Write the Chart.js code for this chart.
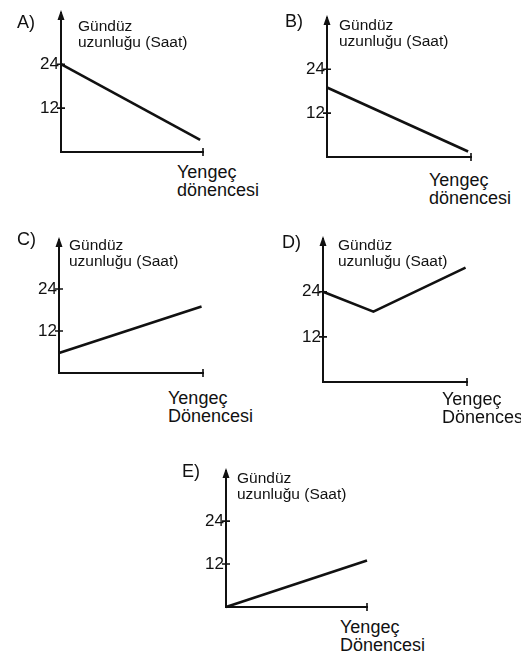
<!DOCTYPE html>
<html lang="tr">
<head>
<meta charset="UTF-8">
<title>Gündüz uzunluğu - Yengeç dönencesi</title>
<script src="https://cdn.jsdelivr.net/npm/chart.js"></script>
<style>
  body { margin: 0; background: #fff; }
  #page {
    position: relative;
    width: 521px;
    height: 658px;
    overflow: hidden;
    font-family: "Liberation Sans", Arial, sans-serif;
    color: #111;
  }
  canvas { position: absolute; }
  .lbl { position: absolute; white-space: nowrap; }
  .letter { font-size: 18px; line-height: 18px; }
  .title { font-size: 15.5px; line-height: 16px; }
  .xname { font-size: 18px; line-height: 18px; }
</style>
</head>
<body>
<div id="page"></div>

<script>
  // data
  const yTicks = [12, 24];
  const yTitle = ['Gündüz', 'uzunluğu (Saat)'];
  const xTitleLower = ['Yengeç', 'dönencesi'];
  const xTitleUpper = ['Yengeç', 'Dönencesi'];

  const xA = [0, 9.8];       const yA = [24, 3.3];
  const xB = [0, 9.8];       const yB = [19, 1.5];
  const xC = [0, 9.9];       const yC = [5.7, 19];
  const xD = [0, 3.5, 9.9];  const yD = [24, 18.7, 30.4];
  const xE = [0, 10];        const yE = [0, 13];

  const yMax = 38;
  const xMax = 10;

  // placement of each small chart on the page (axis left, axis right, origin y, px per 12 h)
  const panels = [
    { name: 'A)', xs: xA, ys: yA, xt: xTitleLower, L: 61,  R: 203, B: 152, k: 44,
      letter: [17, 13],  title: [78, 18],  xname: [177, 163] },
    { name: 'B)', xs: xB, ys: yB, xt: xTitleLower, L: 327, R: 471, B: 157, k: 44,
      letter: [285, 12], title: [339, 17], xname: [429, 171] },
    { name: 'C)', xs: xC, ys: yC, xt: xTitleUpper, L: 59,  R: 203, B: 373, k: 42,
      letter: [17, 230], title: [69, 237], xname: [168, 389] },
    { name: 'D)', xs: xD, ys: yD, xt: xTitleUpper, L: 323, R: 467, B: 382, k: 45,
      letter: [282, 233], title: [338, 237], xname: [442, 390] },
    { name: 'E)', xs: xE, ys: yE, xt: xTitleUpper, L: 226, R: 367, B: 607, k: 43,
      letter: [182, 462], title: [237, 470], xname: [340, 618] }
  ];

  const INK = '#111';
  const Y_W = 32, PAD = 8;

  // tick crosses, end tick of x axis and the arrow head on y axis
  const axisMarks = {
    id: 'axisMarks',
    afterDraw(chart) {
      const { ctx, chartArea: a, scales: { x, y } } = chart;
      ctx.save();
      ctx.strokeStyle = INK;
      ctx.lineWidth = 1.6;
      ctx.beginPath();
      yTicks.forEach(v => {
        const py = y.getPixelForValue(v);
        ctx.moveTo(a.left - 4, py);
        ctx.lineTo(a.left + 4, py);
      });
      const px = x.getPixelForValue(x.max);
      ctx.moveTo(px, a.bottom - 4);
      ctx.lineTo(px, a.bottom + 4);
      ctx.stroke();

      ctx.fillStyle = INK;
      ctx.beginPath();
      ctx.moveTo(a.left, a.top - 3);
      ctx.lineTo(a.left - 3.5, a.top + 7);
      ctx.lineTo(a.left + 3.5, a.top + 7);
      ctx.closePath();
      ctx.fill();
      ctx.restore();
    }
  };

  const page = document.getElementById('page');

  function addLabel(cls, pos, lines) {
    const d = document.createElement('div');
    d.className = 'lbl ' + cls;
    d.style.left = pos[0] + 'px';
    d.style.top = pos[1] + 'px';
    d.innerHTML = lines.join('<br>');
    page.appendChild(d);
  }

  panels.forEach(p => {
    const plotH = Math.round(yMax * p.k / 12);
    const cv = document.createElement('canvas');
    const w = p.R - p.L + Y_W + PAD;
    const h = plotH + PAD * 2;
    cv.width = w;
    cv.height = h;
    cv.style.left = (p.L - Y_W) + 'px';
    cv.style.top = (p.B - plotH - PAD) + 'px';
    page.appendChild(cv);

    new Chart(cv.getContext('2d'), {
      type: 'line',
      data: {
        datasets: [{
          data: p.xs.map((v, i) => ({ x: v, y: p.ys[i] })),
          borderColor: INK,
          borderWidth: 2.6,
          pointRadius: 0,
          tension: 0,
          clip: false
        }]
      },
      options: {
        responsive: false,
        animation: false,
        devicePixelRatio: 1,
        layout: { padding: { top: PAD, right: PAD, left: 0, bottom: 0 } },
        plugins: { legend: { display: false }, tooltip: { enabled: false } },
        scales: {
          x: {
            type: 'linear',
            min: 0,
            max: xMax,
            grid: { display: false, drawTicks: false },
            ticks: { display: false },
            border: { display: true, color: INK, width: 2 },
            afterFit(s) { s.height = PAD; s.paddingLeft = 0; s.paddingRight = 0; }
          },
          y: {
            type: 'linear',
            min: 0,
            max: yMax,
            grid: { display: false, drawTicks: false },
            border: { display: true, color: INK, width: 2 },
            afterBuildTicks(s) { s.ticks = yTicks.map(v => ({ value: v })); },
            ticks: {
              color: INK,
              padding: 2,
              font: { family: '"Liberation Sans", Arial, sans-serif', size: 17 }
            },
            afterFit(s) { s.width = Y_W; s.paddingTop = 0; s.paddingBottom = 0; }
          }
        }
      },
      plugins: [axisMarks]
    });

    addLabel('letter', p.letter, [p.name]);
    addLabel('title', p.title, yTitle);
    addLabel('xname', p.xname, p.xt);
  });
</script>
</body>
</html>
